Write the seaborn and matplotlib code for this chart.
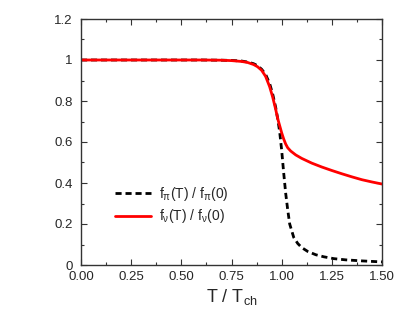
import matplotlib
matplotlib.use('Agg')
import matplotlib.pyplot as plt
import numpy as np
import pandas as pd
import seaborn as sns
from matplotlib.ticker import MultipleLocator, FormatStrFormatter

# values
t_pi = [0.0, 0.2, 0.4, 0.6, 0.7, 0.75, 0.8, 0.83, 0.86, 0.88, 0.9, 0.92, 0.94, 0.955,
        0.97, 0.98, 0.99, 1.0, 1.01, 1.02, 1.03, 1.04, 1.06, 1.08, 1.1, 1.13, 1.17,
        1.21, 1.26, 1.32, 1.4, 1.5]
f_pi = [1.0, 1.0, 1.0, 1.0, 0.999, 0.998, 0.995, 0.99, 0.982, 0.972, 0.955, 0.93, 0.885,
        0.835, 0.77, 0.715, 0.65, 0.56, 0.45, 0.35, 0.27, 0.2, 0.135, 0.105, 0.085,
        0.066, 0.05, 0.04, 0.031, 0.025, 0.02, 0.015]

t_v = [0.0, 0.2, 0.4, 0.6, 0.7, 0.75, 0.8, 0.83, 0.86, 0.88, 0.9, 0.92, 0.94, 0.955,
       0.97, 0.98, 0.99, 1.0, 1.01, 1.02, 1.03, 1.045, 1.07, 1.1, 1.15, 1.2, 1.25,
       1.3, 1.35, 1.4, 1.45, 1.5]
f_v = [1.0, 1.0, 1.0, 1.0, 0.999, 0.997, 0.993, 0.988, 0.978, 0.967, 0.95, 0.92, 0.87,
       0.82, 0.76, 0.715, 0.68, 0.645, 0.615, 0.59, 0.572, 0.556, 0.537, 0.52, 0.497,
       0.478, 0.461, 0.445, 0.43, 0.416, 0.405, 0.395]

label_pi = r'f$_\pi$(T) / f$_\pi$(0)'
label_v = r'f$_\nu$(T) / f$_\nu$(0)'

sns.set_theme(style='ticks')
plt.rcParams['font.family'] = ['Liberation Sans', 'DejaVu Sans']
plt.rcParams['mathtext.fontset'] = 'custom'
plt.rcParams['mathtext.rm'] = 'Liberation Sans'
plt.rcParams['mathtext.it'] = 'Liberation Sans'

df_pi = pd.DataFrame({'T': t_pi, 'f': f_pi})
df_v = pd.DataFrame({'T': t_v, 'f': f_v})

fig = plt.figure(figsize=(4.15, 3.12), dpi=100)
ax = fig.add_axes([81 / 415, 47 / 312, 301 / 415, 246 / 312])

sns.lineplot(data=df_pi, x='T', y='f', ax=ax, color='black', linewidth=2.0,
             label=label_pi, estimator=None, sort=False)
ax.lines[-1].set_dashes([2.2, 1.4])
sns.lineplot(data=df_v, x='T', y='f', ax=ax, color='#ff0000', linewidth=2.0,
             label=label_v, estimator=None, sort=False)

ax.set_xlim(0, 1.5)
ax.set_ylim(0, 1.2)
ax.xaxis.set_major_locator(MultipleLocator(0.25))
ax.xaxis.set_minor_locator(MultipleLocator(0.125))
ax.xaxis.set_major_formatter(FormatStrFormatter('%.2f'))
ax.yaxis.set_major_locator(MultipleLocator(0.2))
ax.yaxis.set_minor_locator(MultipleLocator(0.1))
ax.yaxis.set_major_formatter(lambda v, p: f'{v:g}')
ax.tick_params(which='both', direction='in', top=True, right=True, labelsize=9.5,
               width=0.8, color='#333333')
ax.tick_params(which='major', length=4)
ax.tick_params(which='minor', length=2.5)
ax.tick_params(axis='x', pad=4)
ax.tick_params(axis='y', pad=6)
for s in ax.spines.values():
    s.set_linewidth(1.0)
    s.set_color('#333333')

ax.set_xlabel(r'T / T$_{\rm ch}$', fontsize=13, labelpad=3)
ax.set_ylabel('')

leg = ax.legend(loc='lower left', bbox_to_anchor=(0.07, 0.11), frameon=False,
                fontsize=10, handlelength=2.6, handletextpad=0.6, labelspacing=0.3)

fig.savefig('out.png', dpi=100)
